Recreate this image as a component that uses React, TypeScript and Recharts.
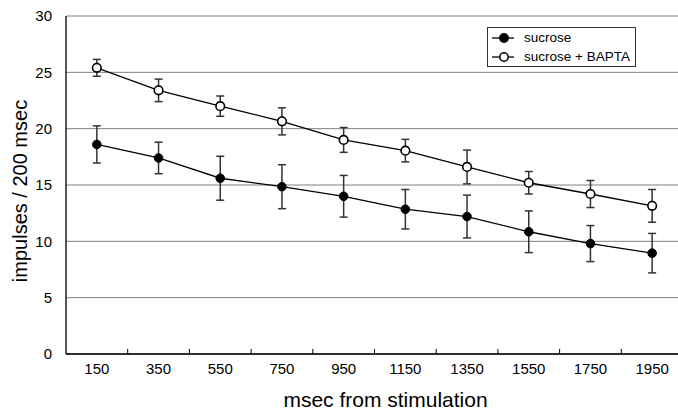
import React from "react";
import { LineChart, Line, XAxis, YAxis, CartesianGrid, ErrorBar, Legend, Label } from "recharts";

const categories = [150, 350, 550, 750, 950, 1150, 1350, 1550, 1750, 1950];
const sucrose = [18.6, 17.4, 15.6, 14.85, 14.0, 12.85, 12.2, 10.85, 9.8, 8.95];
const sucroseErr = [1.65, 1.4, 1.95, 1.95, 1.85, 1.75, 1.9, 1.85, 1.6, 1.75];
const bapta = [25.4, 23.4, 22.0, 20.65, 19.0, 18.05, 16.6, 15.2, 14.2, 13.15];
const baptaErr = [0.75, 1.0, 0.9, 1.2, 1.1, 1.0, 1.5, 1.0, 1.2, 1.45];
const yTicks = [0, 5, 10, 15, 20, 25, 30];
const seriesNames = ["sucrose", "sucrose + BAPTA"];

const step = categories[1] - categories[0];
const boundaries = categories.map((c) => c + step / 2);
const xTicks = [...categories, ...boundaries].sort((a, b) => a - b);

const data = categories.map((x, i) => ({
  x,
  sucrose: sucrose[i],
  sucroseErr: sucroseErr[i],
  bapta: bapta[i],
  baptaErr: baptaErr[i],
}));

const FONT = "'Liberation Sans', Arial, sans-serif";

const XTick = (props: any) => {
  const { x, y, payload } = props;
  const v = payload.value;
  if (categories.includes(v)) {
    return (
      <text x={x} y={y + 20} textAnchor="middle" fontSize={15} fontFamily={FONT} fill="#000">
        {v}
      </text>
    );
  }
  return <line x1={x} y1={y} x2={x} y2={y - 5} stroke="#000" strokeWidth={1} />;
};

const LegendBox = () => (
  <div
    style={{
      width: 149,
      height: 40,
      border: "1px solid #333",
      background: "#fff",
      boxSizing: "border-box",
      fontFamily: FONT,
      fontSize: 13.5,
      color: "#000",
    }}
  >
    {seriesNames.map((n, i) => (
      <div key={n} style={{ display: "flex", alignItems: "center", height: 19, paddingLeft: 3 }}>
        <svg width={24} height={12} style={{ marginRight: 9 }}>
          <line x1={1} y1={6} x2={23} y2={6} stroke="#000" strokeWidth={1.3} />
          <circle cx={13} cy={6} r={4.2} fill={i === 0 ? "#000" : "#fff"} stroke="#000" strokeWidth={1.5} />
        </svg>
        <span>{n}</span>
      </div>
    ))}
  </div>
);

export default function App() {
  return (
    <div style={{ position: "absolute", left: 0, top: 0, width: 678, height: 410, overflow: "hidden", background: "#fff" }}>
      <LineChart width={700} height={410} data={data} margin={{ top: 16, right: 17, left: 0, bottom: 0 }}>
        <CartesianGrid vertical={false} stroke="#808080" strokeWidth={1} />
        <XAxis
          dataKey="x"
          type="number"
          domain={[categories[0] - step / 2, categories[categories.length - 1] + step / 2]}
          ticks={xTicks}
          interval={0}
          tickLine={false}
          tickSize={0}
          tickMargin={0}
          tick={<XTick />}
          height={56}
          axisLine={{ stroke: "#000", strokeWidth: 1.3 }}
        >
          <Label
            content={(p: any) => {
              const vb = p.viewBox;
              return (
                <text x={vb.x + vb.width / 2 + 11} y={vb.y + vb.height - 3} textAnchor="middle" fontSize={21} fontFamily={FONT} fill="#000">
                  msec from stimulation
                </text>
              );
            }}
          />
        </XAxis>
        <YAxis
          domain={[0, 30]}
          ticks={yTicks}
          interval={0}
          width={66}
          tickLine={false}
          tickMargin={8}
          tick={{ fontSize: 15, fontFamily: FONT, fill: "#000" }}
          axisLine={{ stroke: "#000", strokeWidth: 1.3 }}
        >
          <Label
            content={(p: any) => {
              const vb = p.viewBox;
              const cx = 20;
              const cy = vb.y + vb.height / 2 + 6;
              return (
                <text x={cx} y={cy} transform={`rotate(-90, ${cx}, ${cy})`} textAnchor="middle" dominantBaseline="central" fontSize={20} fontFamily={FONT} fill="#000">
                  impulses / 200 msec
                </text>
              );
            }}
          />
        </YAxis>
        <Legend
          layout="horizontal"
          verticalAlign="middle"
          align="center"
          content={<LegendBox />}
          wrapperStyle={{ position: "absolute", left: 487, top: 27, width: 149, height: 40 }}
        />
        <Line
          dataKey="sucrose"
          name={seriesNames[0]}
          stroke="#000"
          strokeWidth={1.3}
          isAnimationActive={false}
          dot={{ r: 4.3, fill: "#000", stroke: "#000", strokeWidth: 1 }}
          activeDot={false}
        >
          <ErrorBar dataKey="sucroseErr" width={4} stroke="#333" strokeWidth={1.5} />
        </Line>
        <Line
          dataKey="bapta"
          name={seriesNames[1]}
          stroke="#000"
          strokeWidth={1.3}
          isAnimationActive={false}
          dot={{ r: 4.3, fill: "#fff", stroke: "#000", strokeWidth: 1.6 }}
          activeDot={false}
        >
          <ErrorBar dataKey="baptaErr" width={4} stroke="#333" strokeWidth={1.5} />
        </Line>
      </LineChart>
    </div>
  );
}
